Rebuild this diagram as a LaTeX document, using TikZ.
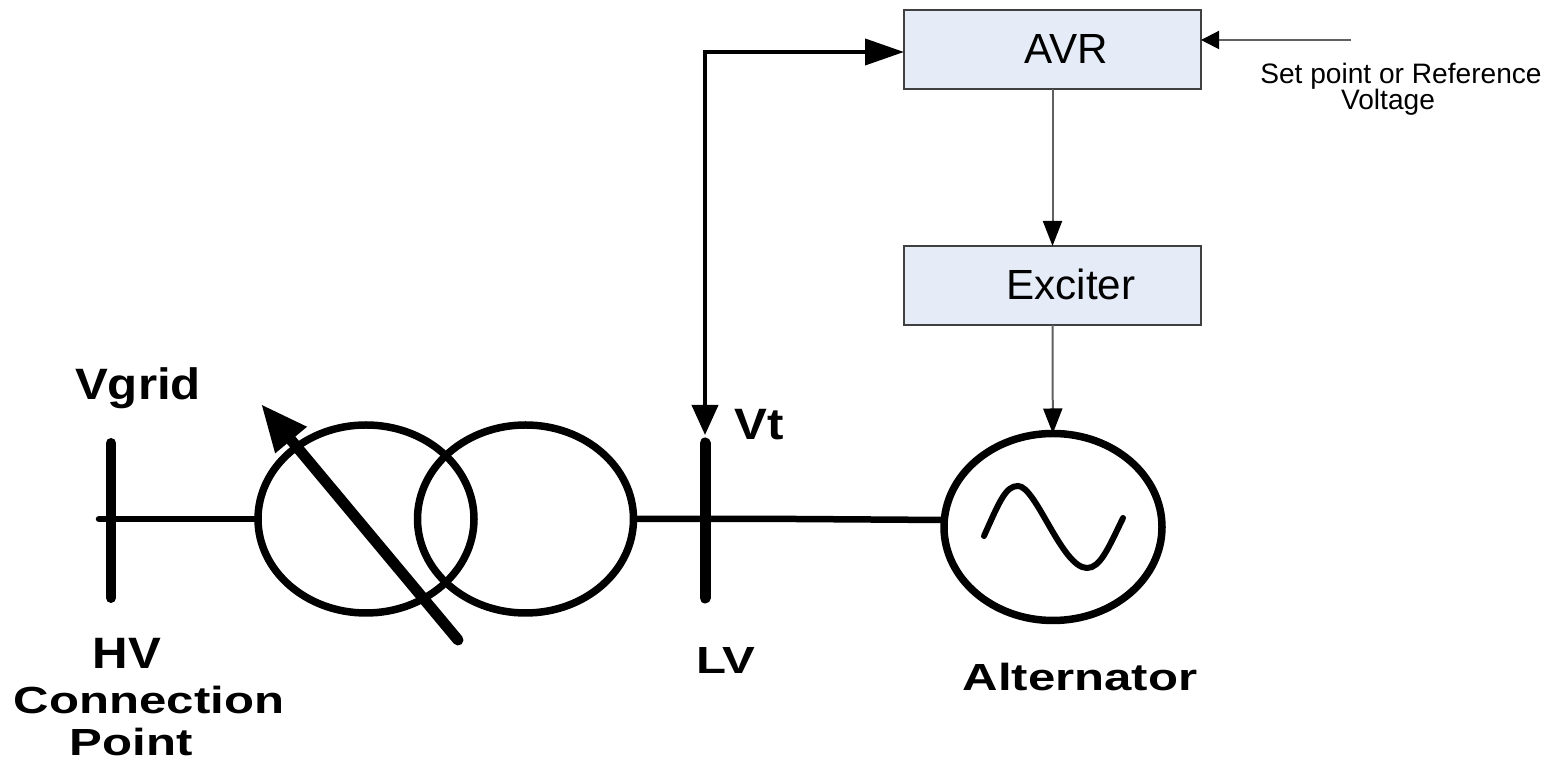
\documentclass[tikz,border=0pt]{standalone}
\usepackage{fontspec}
\setmainfont{Liberation Sans}
\newfontfamily\widefont[FakeStretch=1.3]{Liberation Sans}
\newfontfamily\tallfont[FakeStretch=1.12]{Liberation Sans}
\usepackage{xcolor}
\usetikzlibrary{
    arrows.meta,
    calc,
    positioning,
    shapes.geometric
}
\definecolor{boxfill}{HTML}{E6ECF7}
\definecolor{boxline}{HTML}{404040}
\definecolor{sigline}{HTML}{606060}
\tikzstyle{ctrlbox}=[
    rectangle,
    minimum width=5.94cm,
    minimum height=1.58cm,
    inner sep=0pt,
    outer sep=0pt,
    draw=boxline,
    fill=boxfill,
    line width=0.03cm,
    font=\fontsize{24}{28}\selectfont
]
\tikzstyle{winding}=[
    ellipse,
    minimum width=4.32cm,
    minimum height=3.76cm,
    inner sep=0pt,
    outer sep=0pt,
    draw=black,
    line width=0.15cm
]
\begin{document}
\begin{tikzpicture}[
    bus/.style={line width=0.2cm,line cap=round},
    wire/.style={line width=0.13cm},
    sig/.style={draw=sigline,line width=0.04cm,
    -{Triangle[length=0.5cm,width=0.38cm,color=black,fill=black]}},
    boldlabel/.style={font=\widefont\bfseries\fontsize{21.5}{26}\selectfont,inner sep=0pt},
    talllabel/.style={font=\tallfont\bfseries\fontsize{25}{29}\selectfont,inner sep=0pt},
    smalllabel/.style={font=\fontsize{16}{19}\selectfont,inner sep=0pt}
]
\useasboundingbox (0,0) rectangle (30.94,15.22);
% control blocks
\node[ctrlbox] (avr) at (21.05,14.23) {\raisebox{1pt}{\hspace*{16pt}AVR}};
\node[ctrlbox,below=3.14cm of avr] (exciter) {\raisebox{1pt}{\hspace*{21pt}Exciter}};
% machine and transformer
\node[winding] (primary) at (7.32,4.84) {};
\node[winding] (secondary) at (10.51,4.84) {};
\node[winding,minimum width=4.36cm,minimum height=3.74cm] (alternator) at (21.06,4.68) {};
% bus bars
\coordinate (hvtop) at (2.22,6.36);
\coordinate (hvbot) at (2.22,3.26);
\coordinate (lvtop) at (14.10,6.36);
\coordinate (lvbot) at (14.10,3.26);
\draw[bus] (hvtop) -- (hvbot);
\draw[bus,line width=0.22cm] (lvtop) -- (lvbot);
% wiring
\coordinate (hvstub) at (1.98,4.84);
\coordinate (lvknee) at (15.9,4.84);
\coordinate (altin) at (18.88,4.82);
\draw[wire,line cap=round] (hvstub) -- (primary.west);
\draw[wire] (secondary.east) -- (lvknee) -- (altin);
% tap changer arrow
\coordinate (tapend) at (9.16,2.42);
\coordinate (taptip) at (5.22,7.14);
\draw[line width=0.22cm,line cap=round,
-{Triangle[length=0.94cm,width=0.76cm]}] (tapend) -- (taptip);
% sine wave
\draw[line width=0.12cm,line cap=round] (19.68,4.50)
.. controls (20.0,5.22) and (20.12,5.50) .. (20.36,5.50)
.. controls (20.72,5.50) and (21.24,3.86) .. (21.74,3.86)
.. controls (22.0,3.86) and (22.16,4.24) .. (22.46,4.86);
% signals
\coordinate (fbtip) at (14.10,6.52);
\coordinate (fbin) at ($(avr.west)+(0,-0.05)$);
\draw[line width=0.08cm,
{Triangle[length=0.6cm,width=0.52cm]}-{Triangle[length=0.78cm,width=0.52cm]}]
(fbtip) |- (fbin);
\draw[sig] (avr) -- (exciter);
\draw[sig] (exciter) -- (alternator);
\coordinate (setstart) at (27.02,14.42);
\draw[sig,-{Triangle[length=0.36cm,width=0.36cm,color=black,fill=black]}]
(setstart) -- (setstart -| avr.east);
% labels
\node[talllabel] (vgrid) at (2.76,7.46) {Vgrid};
\node[talllabel] (vt) at (15.18,6.72) {Vt};
\node[talllabel] (hv) at (2.54,2.16) {HV};
\node[boldlabel] (connection) at (2.98,1.22) {Connection};
\node[boldlabel] (point) at (2.62,0.37) {Point};
\node[boldlabel] (lv) at (14.52,2.0) {LV};
\node[boldlabel] (altlabel) at (21.6,1.68) {Alternator};
\node[smalllabel] (setlabel) at (28.02,13.70) {Set point or Reference};
\node[smalllabel] (voltlabel) at (27.76,13.18) {Voltage};
\end{tikzpicture}
\end{document}
